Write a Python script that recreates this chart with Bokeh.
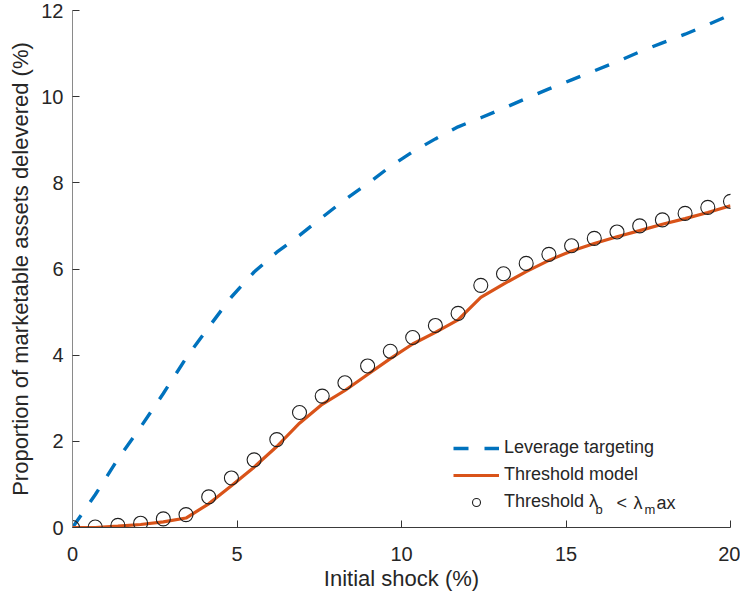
from bokeh.plotting import figure
from bokeh.models import Legend, LegendItem, Label, FixedTicker
from bokeh.embed import file_html
from bokeh.resources import INLINE

# ---- data ----
shock = [0.0, 0.69, 1.38, 2.07, 2.76, 3.45, 4.14, 4.83, 5.52, 6.21,
         6.90, 7.59, 8.28, 8.97, 9.66, 10.34, 11.03, 11.72, 12.41, 13.10,
         13.79, 14.48, 15.17, 15.86, 16.55, 17.24, 17.93, 18.62, 19.31, 20.0]
leverage_targeting = [0.0, 0.76, 1.59, 2.33, 3.11, 3.93, 4.65, 5.35, 5.93, 6.39,
                      6.78, 7.20, 7.61, 7.98, 8.38, 8.72, 9.02, 9.30, 9.51, 9.73,
                      9.96, 10.18, 10.39, 10.60, 10.81, 11.04, 11.25, 11.45, 11.67, 11.90]
threshold_model = [0.0, 0.0, 0.03, 0.07, 0.13, 0.22, 0.55, 0.97, 1.40, 1.88,
                   2.42, 2.86, 3.18, 3.55, 3.92, 4.26, 4.53, 4.82, 5.34, 5.65,
                   5.94, 6.20, 6.42, 6.59, 6.75, 6.89, 7.04, 7.17, 7.31, 7.47]
threshold_lambda = [0.0, 0.01, 0.05, 0.10, 0.20, 0.30, 0.71, 1.15, 1.57, 2.04,
                    2.67, 3.05, 3.36, 3.75, 4.09, 4.41, 4.69, 4.97, 5.62, 5.89,
                    6.13, 6.34, 6.54, 6.71, 6.86, 7.00, 7.14, 7.29, 7.43, 7.57]
x_ticks = [0, 5, 10, 15, 20]
y_ticks = [0, 2, 4, 6, 8, 10, 12]
x_label = "Initial shock (%)"
y_label = "Proportion of marketable assets delevered (%)"
legend_labels = ["Leverage targeting", "Threshold model", "Threshold \u03bb"]

BLUE = "#0072BD"
ORANGE = "#D95319"
TXT = "#262626"
FONT = "Liberation Sans"

W, H = 740, 597
FL, FT, FB, FR = 72, 10, 70, 10   # frame borders
p = figure(width=W, height=H, x_range=(0, 20), y_range=(0, 12),
           output_backend="svg", toolbar_location=None,
           min_border_left=FL, min_border_top=FT, min_border_bottom=FB,
           min_border_right=FR)
p.outline_line_color = None
p.grid.visible = False
p.background_fill_color = "white"
p.border_fill_color = "white"

r1 = p.line(shock, leverage_targeting, line_color=BLUE, line_width=3.4,
            line_dash="15 16")
r2 = p.line(shock, threshold_model, line_color=ORANGE, line_width=3.2)
r3 = p.scatter(shock, threshold_lambda, marker="circle", size=14,
               fill_color=None, line_color="#1f1f1f", line_width=1.1)

for ax, ticks in ((p.xaxis, x_ticks), (p.yaxis, y_ticks)):
    ax.ticker = FixedTicker(ticks=ticks)
    ax.major_tick_in = 7
    ax.major_tick_out = 0
    ax.minor_tick_line_color = None
    ax.major_tick_line_color = "#333333"
    ax.major_label_text_font = FONT
    ax.major_label_text_font_size = "20px"
    ax.major_label_text_color = TXT
    ax.axis_label_text_font = FONT
    ax.axis_label_text_font_size = "22px"
    ax.axis_label_text_font_style = "normal"
    ax.axis_label_text_color = TXT

p.xaxis.axis_label = x_label
p.yaxis.axis_label = y_label
p.xaxis.axis_line_color = "#3a3a3a"
p.yaxis.axis_line_color = "#8a8a8a"
p.xaxis.major_label_standoff = 19
p.xaxis.axis_label_standoff = 2
p.yaxis.major_label_standoff = 9
p.yaxis.axis_label_standoff = 5

legend = Legend(items=[LegendItem(label=legend_labels[0], renderers=[r1]),
                       LegendItem(label=legend_labels[1], renderers=[r2]),
                       LegendItem(label=legend_labels[2], renderers=[r3])],
                location=(381, 15), orientation="vertical",
                glyph_width=46, glyph_height=20, label_height=20,
                label_standoff=5, spacing=6, padding=0, margin=0,
                border_line_color=None, background_fill_alpha=0,
                label_text_font=FONT, label_text_font_size="18px",
                label_text_color=TXT)
p.add_layout(legend, "center")

# pieces of the third legend entry (subscripts), positioned in data units
frame_w = W - FL - FR
frame_h = H - FT - FB
def dx(px):  # px offset from frame left -> data x
    return px / frame_w * 20
def dy(px):  # px offset from frame bottom -> data y
    return px / frame_h * 12

row3 = 15 + 10  # center of third row, px above frame bottom
parts = [("b", 595 - FL, row3 - 7, "13px"),
         ("<", 616 - FL, row3, "18px"),
         ("\u03bb", 633 - FL, row3, "18px"),
         ("m", 644 - FL, row3 - 7, "13px"),
         ("ax", 656 - FL, row3, "18px")]
for t, xpx, ypx, fs in parts:
    p.add_layout(Label(x=dx(xpx), y=dy(ypx), text=t, text_font=FONT,
                       text_font_size=fs, text_color=TXT,
                       text_baseline="middle", text_align="left"))

open("out.html", "w").write(file_html(p, INLINE))
